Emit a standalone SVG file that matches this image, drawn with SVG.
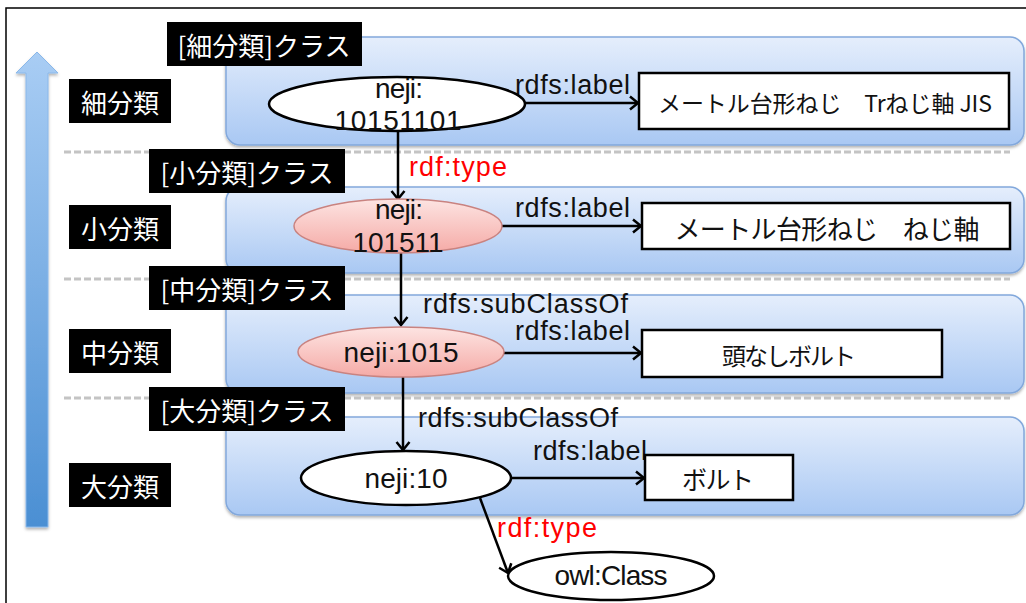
<svg xmlns="http://www.w3.org/2000/svg" width="1026" height="603" viewBox="0 0 1026 603">
<style>
.panel{fill:url(#pg);stroke:#82a8dc;stroke-width:1.5;filter:url(#sh)}
.dash{stroke:#c4c4c4;stroke-width:3;stroke-dasharray:7 3;fill:none}
.blk{fill:#000}
.wt{fill:#fff;font-family:"Noto Sans CJK JP","Noto Sans CJK SC",sans-serif;font-size:26px;text-anchor:middle;dominant-baseline:central}
.lat{fill:#111;font-family:"Liberation Sans",Arial,sans-serif;font-size:28px;text-anchor:middle}
.lbl{fill:#111;font-family:"Liberation Sans",Arial,sans-serif;font-size:27px}
.red{fill:#f00;font-family:"Liberation Sans",Arial,sans-serif;font-size:27px}
.jp{fill:#111;font-family:"Noto Sans CJK JP","Noto Sans CJK SC",sans-serif;font-size:25px;text-anchor:middle;dominant-baseline:central}
.ew{fill:#fff;stroke:#000;stroke-width:2.5}
.ep{fill:url(#pk);stroke:#c98380;stroke-width:1.5}
.box{fill:#fff;stroke:#000;stroke-width:2.5}
.con{stroke:#000;stroke-width:2.5;fill:none;marker-end:url(#ah)}
</style>
<defs>
<linearGradient id="pg" x1="0" y1="0" x2="0" y2="1">
<stop offset="0" stop-color="#e5eefc"/>
<stop offset="1" stop-color="#a9c8f3"/>
</linearGradient>
<linearGradient id="pk" x1="0" y1="0" x2="0" y2="1">
<stop offset="0" stop-color="#fde4e2"/>
<stop offset="1" stop-color="#f5aaa6"/>
</linearGradient>
<linearGradient id="ag" x1="0" y1="0" x2="0" y2="1">
<stop offset="0" stop-color="#a9cdf4"/>
<stop offset="1" stop-color="#4b8fd3"/>
</linearGradient>
<filter id="sh" x="-5%" y="-10%" width="110%" height="130%">
<feDropShadow dx="0" dy="2" stdDeviation="1.5" flood-color="#000" flood-opacity="0.3"/>
</filter>
<marker id="ah" viewBox="0 0 12 16" refX="10" refY="8" markerWidth="12" markerHeight="16" orient="auto" markerUnits="userSpaceOnUse">
<path d="M2,1.5 L10,8 L2,14.5" fill="none" stroke="#000" stroke-width="2.5"/>
</marker>
</defs>
<rect x="0" y="0" width="1026" height="603" fill="#fff"/>
<rect x="6" y="8" width="1030" height="600" fill="none" stroke="#000" stroke-width="1.5"/>

<g id="levelArrow">
<polygon points="37,52 58,73 48,73 48,527 26,527 26,73 16,73" fill="url(#ag)" stroke="#8ab8ea" stroke-width="1" filter="url(#sh)"/>
</g>

<g id="panels">
<rect class="panel" x="226" y="37" width="798" height="108" rx="14"/>
<rect class="panel" x="226" y="187" width="798" height="86" rx="14"/>
<rect class="panel" x="226" y="295" width="798" height="98" rx="14"/>
<rect class="panel" x="226" y="417" width="798" height="98" rx="14"/>
</g>

<g id="separators">
<line class="dash" x1="64" y1="152" x2="1010" y2="152"/>
<line class="dash" x1="64" y1="279" x2="1010" y2="279"/>
<line class="dash" x1="64" y1="398" x2="1010" y2="398"/>
</g>

<g id="class-labels">
<g id="cls-saibunrui"><rect class="blk" x="167" y="22" width="195" height="44"/><text class="wt" x="264" y="44">[細分類]クラス</text></g>
<g id="cls-shoubunrui"><rect class="blk" x="149" y="149" width="196" height="44"/><text class="wt" x="247" y="171">[小分類]クラス</text></g>
<g id="cls-chuubunrui"><rect class="blk" x="149" y="266" width="196" height="44"/><text class="wt" x="247" y="288">[中分類]クラス</text></g>
<g id="cls-daibunrui"><rect class="blk" x="149" y="387" width="196" height="44"/><text class="wt" x="247" y="409">[大分類]クラス</text></g>
</g>

<g id="level-labels">
<g id="lv-saibunrui"><rect class="blk" x="69" y="79" width="102" height="44"/><text class="wt" x="120" y="101">細分類</text></g>
<g id="lv-shoubunrui"><rect class="blk" x="69" y="205" width="102" height="44"/><text class="wt" x="120" y="227">小分類</text></g>
<g id="lv-chuubunrui"><rect class="blk" x="69" y="329" width="102" height="44"/><text class="wt" x="120" y="351">中分類</text></g>
<g id="lv-daibunrui"><rect class="blk" x="69" y="463" width="102" height="44"/><text class="wt" x="120" y="485">大分類</text></g>
</g>

<g id="connectors">
<path class="con" d="M398,131 L398,199"/>
<path class="con" d="M401,253 L401,325"/>
<path class="con" d="M403,377 L403,450"/>
<path class="con" d="M480,498 L508,573"/>
<path class="con" d="M525,103 L638,103"/>
<path class="con" d="M502,226 L641,226"/>
<path class="con" d="M504,353 L641,353"/>
<path class="con" d="M511,478 L644,478"/>
<text class="lbl" x="515" y="94" textLength="115">rdfs:label</text>
<text class="lbl" x="515" y="217" textLength="115">rdfs:label</text>
<text class="lbl" x="515" y="340" textLength="115">rdfs:label</text>
<text class="lbl" x="533" y="460" textLength="114">rdfs:label</text>
<text class="lbl" x="423" y="313" textLength="205">rdfs:subClassOf</text>
<text class="lbl" x="418" y="427" textLength="200">rdfs:subClassOf</text>
<text class="red" x="409" y="176" textLength="98">rdf:type</text>
<text class="red" x="497" y="537" textLength="100">rdf:type</text>
</g>

<g id="n-10151101">
<ellipse class="ew" cx="397" cy="104" rx="128" ry="27"/>
<text class="lat" x="399" y="98" textLength="48">neji:</text>
<text class="lat" x="398" y="130" textLength="127">10151101</text>
</g>
<g id="n-101511">
<ellipse class="ep" cx="398" cy="226" rx="104" ry="27"/>
<text class="lat" x="399" y="219" textLength="48">neji:</text>
<text class="lat" x="398" y="252" textLength="91">101511</text>
</g>
<g id="n-1015">
<ellipse class="ep" cx="401" cy="352" rx="103" ry="25"/>
<text class="lat" x="401" y="362" textLength="115">neji:1015</text>
</g>
<g id="n-10">
<ellipse class="ew" cx="406" cy="478" rx="105" ry="27"/>
<text class="lat" x="406" y="488" textLength="83">neji:10</text>
</g>
<g id="n-owlClass">
<ellipse class="ew" cx="611" cy="576" rx="103" ry="24"/>
<text class="lat" x="611" y="585" textLength="113">owl:Class</text>
</g>

<g id="lit-1">
<rect class="box" x="639" y="73" width="370" height="56"/>
<text class="jp" x="825" y="102" textLength="334" style="font-size:23px">メートル台形ねじ　Trねじ軸 JIS</text>
</g>
<g id="lit-2">
<rect class="box" x="642" y="203" width="368" height="46"/>
<text class="jp" x="827" y="227" textLength="305" style="font-size:26px">メートル台形ねじ　ねじ軸</text>
</g>
<g id="lit-3">
<rect class="box" x="642" y="330" width="300" height="47"/>
<text class="jp" x="789" y="354" textLength="134" style="font-size:24px">頭なしボルト</text>
</g>
<g id="lit-4">
<rect class="box" x="645" y="455" width="148" height="45"/>
<text class="jp" x="718" y="478" textLength="72">ボルト</text>
</g>
</svg>
